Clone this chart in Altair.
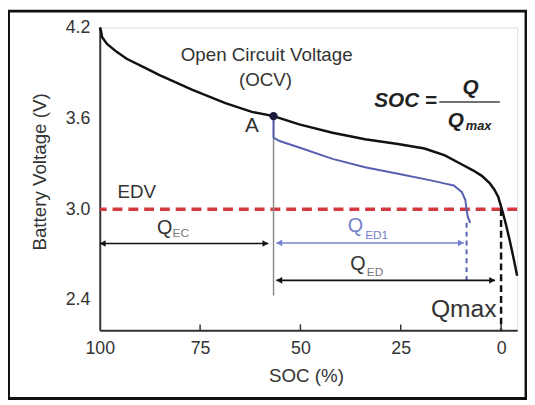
import altair as alt
import pandas as pd

# ---------------- data ----------------
ocv_soc = [100, 99.8, 99.4, 98.2, 95.7, 93.3, 89.2, 85.1, 76.9, 68.7, 62.1, 56.7,
           50.3, 42.0, 33.9, 25.7, 19.1, 14.0, 10.1, 6.9, 4.8, 2.8, 1.7, 0.7,
           -0.3, -1.2, -2.1, -3.0, -4.0]
ocv_v = [4.20, 4.189, 4.135, 4.091, 4.037, 3.993, 3.939, 3.885, 3.788, 3.700, 3.642, 3.614,
         3.560, 3.505, 3.462, 3.430, 3.400, 3.355, 3.300, 3.255, 3.220, 3.170, 3.130, 3.080,
         2.990, 2.900, 2.800, 2.690, 2.560]

ed_soc = [56.7, 56.7, 55.2, 50.3, 42.0, 33.9, 25.7, 17.5, 14.2, 11.8, 9.8, 8.9, 8.6, 8.3, 7.7]
ed_v = [3.614, 3.472, 3.450, 3.407, 3.332, 3.277, 3.234, 3.190, 3.170, 3.156, 3.114, 3.060,
        2.995, 2.950, 2.910]

x_ticks = [100, 75, 50, 25, 0]
y_ticks = [2.4, 3.0, 3.6, 4.2]
edv = [3.0]
point_a_soc = [56.7]
point_a_v = [3.614]

# vertical reference lines: soc, v from, v to
gray_line = ([56.7], [3.614], [2.43])
blue_drop = ([8.6], [2.91], [2.50])
qmax_drop = ([0.0], [3.0], [2.2])

# arrows: from soc, to soc, voltage
arrow_ec = ([100.0], [58.0], [2.773])
arrow_ed1 = ([56.0], [9.3], [2.777])
arrow_ed = ([56.0], [1.5], [2.530])

# annotation texts
ocv_text = ["Open Circuit Voltage", "(OCV)"]
ocv_text_soc = [58.4, 58.7]
ocv_text_v = [4.018, 3.855]

# ---------------- styling ----------------
W, H = 423, 307
FONT = "Liberation Sans"
TXT = "#333333"
BLUE = "#5560b0"
BLUE_TXT = "#7680cc"
RED = "#d23a40"

xs = alt.Scale(domain=[-4, 100], reverse=True, nice=False, zero=False)
ys = alt.Scale(domain=[2.2, 4.2], nice=False, zero=False)

X_AX = alt.Axis(values=x_ticks, ticks=False, grid=False, labelFontSize=18, labelColor=TXT,
                labelFont=FONT, labelPadding=9, domainColor="#333333", domainWidth=2,
                title="SOC (%)", titleFont=FONT, titleFontSize=19, titleFontWeight="normal",
                titleColor=TXT, titleX=209, titleY=46, titleBaseline="middle",
                labelFlush=False, labelOverlap=False)
Y_AX = alt.Axis(values=y_ticks, format=".1f", ticks=False, grid=False, labelFontSize=18,
                labelColor=TXT, labelFont=FONT, labelPadding=10, domainColor="#333333",
                domainWidth=2, title="Battery Voltage (V)", titleFont=FONT, titleFontSize=19,
                titleFontWeight="normal", titleColor=TXT, titleX=-61, titleY=146,
                titleAngle=270, titleAlign="center", titleBaseline="middle",
                labelFlush=False, labelOverlap=False)


def X(f="x"):
    return alt.X(f"{f}:Q", scale=xs, axis=X_AX)


def Y(f="y"):
    return alt.Y(f"{f}:Q", scale=ys, axis=Y_AX)


def vrule(spec, **kw):
    s, a, b = spec
    df = pd.DataFrame({"x": s, "y": a, "y2": b})
    return alt.Chart(df).mark_rule(**kw).encode(x=X(), y=Y(), y2="y2:Q")


def arrow(spec, color, width=1.6):
    a, b, v = spec
    df = pd.DataFrame({"x": a, "x2": b, "y": v})
    line = alt.Chart(df).mark_rule(color=color, strokeWidth=width).encode(x=X(), x2="x2:Q", y=Y())
    left = alt.Chart(df).mark_point(shape="triangle-left", filled=True, size=45, color=color,
                                    opacity=1, xOffset=3).encode(x=X("x"), y=Y())
    right = alt.Chart(df).mark_point(shape="triangle-right", filled=True, size=45, color=color,
                                     opacity=1, xOffset=-3).encode(x=X("x2"), y=Y())
    return [line, left, right]


def txt(labels, sx, sy, **kw):
    df = pd.DataFrame({"t": labels, "x": sx, "y": sy})
    return alt.Chart(df).mark_text(font=FONT, **kw).encode(x=X(), y=Y(), text="t:N")


layers = []

# EDV red dashed line
layers.append(alt.Chart(pd.DataFrame({"y": edv})).mark_rule(
    color=RED, strokeWidth=3.5, strokeDash=[10, 6]).encode(y=Y()))

# gray vertical line at point A
layers.append(vrule(gray_line, color="#8c8c8c", strokeWidth=1.5))

# OCV curve
ocv_df = pd.DataFrame({"x": ocv_soc, "y": ocv_v, "i": range(len(ocv_soc))})
layers.append(alt.Chart(ocv_df).mark_line(color="#111111", strokeWidth=2.5).encode(
    x=X(), y=Y(), order="i:Q"))

# discharge curve
ed_df = pd.DataFrame({"x": ed_soc, "y": ed_v, "i": range(len(ed_soc))})
layers.append(alt.Chart(ed_df).mark_line(color=BLUE, strokeWidth=2).encode(
    x=X(), y=Y(), order="i:Q"))

# point A
layers.append(alt.Chart(pd.DataFrame({"x": point_a_soc, "y": point_a_v})).mark_circle(
    size=70, color="#1a1a3a", opacity=1).encode(x=X(), y=Y()))

# dashed verticals
layers.append(vrule(blue_drop, color=BLUE, strokeWidth=2, strokeDash=[5, 4]))
layers.append(vrule(qmax_drop, color="#111111", strokeWidth=2.5, strokeDash=[7, 4]))

# arrows
layers += arrow(arrow_ec, "#111111")
layers += arrow(arrow_ed1, BLUE_TXT)
layers += arrow(arrow_ed, "#111111")

# inward x ticks
layers.append(alt.Chart(pd.DataFrame({"x": x_ticks[1:]})).mark_rule(
    color="#333333", strokeWidth=1.5).encode(x=X(), y=alt.value(H), y2=alt.value(H - 6)))

# texts
layers.append(txt(ocv_text, ocv_text_soc, ocv_text_v, fontSize=19, color=TXT))
layers.append(txt(["A"], [62.1], [3.549], fontSize=21, color=TXT))
layers.append(txt(["EDV"], [90.8], [3.114], fontSize=19, color=TXT))
layers.append(txt(["Q", "Q"], [83.8, 35.7], [2.876, 2.636], fontSize=20, color=TXT))
layers.append(txt(["EC", "ED"], [79.8, 31.4], [2.843, 2.582], fontSize=12, color="#777777"))
layers.append(txt(["Q"], [36.3], [2.886], fontSize=20, color=BLUE_TXT))
layers.append(txt(["ED1"], [31.0], [2.832], fontSize=12, color=BLUE_TXT))
layers.append(txt(["Qmax"], [9.3], [2.343], fontSize=25, color=TXT))

# formula SOC = Q / Qmax
layers.append(txt(["SOC ="], [23.8], [3.711], fontSize=21, fontStyle="italic",
                  fontWeight="bold", color="#222222"))
layers.append(txt(["Q", "Q"], [7.6, 11.3], [3.798, 3.581], fontSize=21, fontStyle="italic",
                  fontWeight="bold", color="#222222"))
layers.append(txt(["max"], [5.6], [3.549], fontSize=13, fontStyle="italic",
                  fontWeight="bold", color="#222222"))
layers.append(alt.Chart(pd.DataFrame({"x": [15.4], "x2": [0.3], "y": [3.707]})).mark_rule(
    color="#444444", strokeWidth=1.5).encode(x=X(), x2="x2:Q", y=Y()))

# outer figure frame
layers.append(alt.Chart(pd.DataFrame({"a": [0]})).mark_rect(
    fillOpacity=0, stroke="#111111", strokeWidth=3, clip=False).encode(
    x=alt.value(-92.5), x2=alt.value(432), y=alt.value(-16.5), y2=alt.value(376)))

chart = alt.layer(*layers).properties(
    width=W, height=H,
    padding={"left": 93, "top": 17, "right": 10, "bottom": 72},
    autosize=alt.AutoSizeParams(type="none"),
).configure_view(stroke="#6a6a6a", strokeWidth=1.5).configure(background="white")

chart.save("out.html", embed_options={"renderer": "svg", "actions": False})
